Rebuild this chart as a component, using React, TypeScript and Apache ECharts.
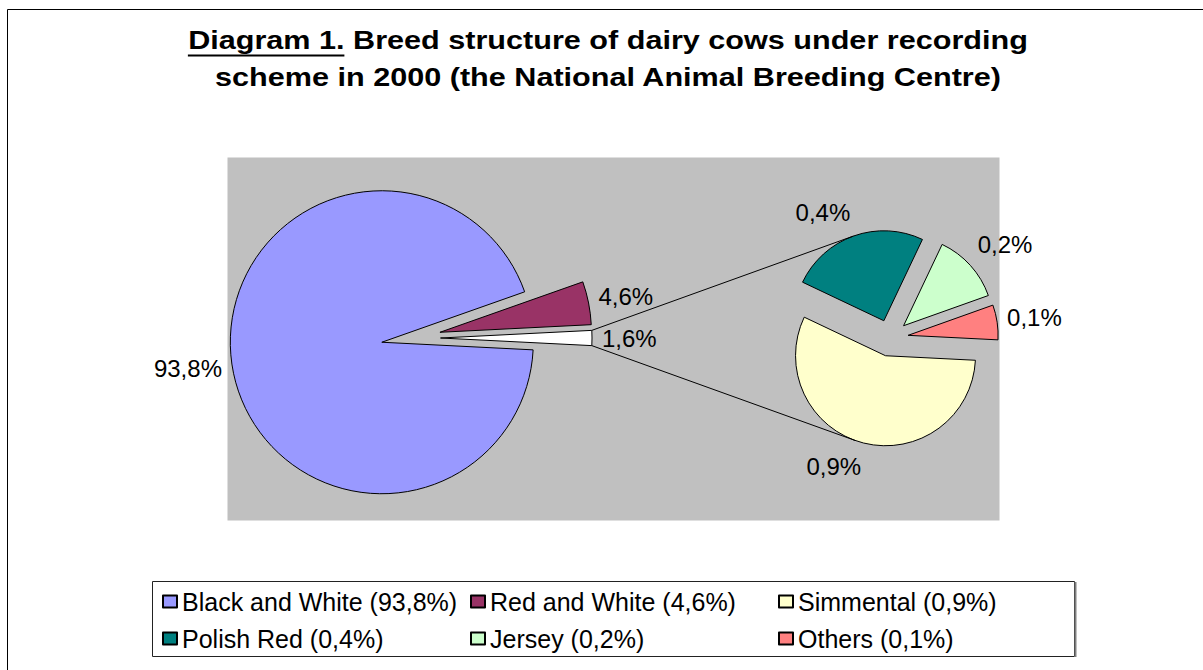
import React, { useEffect, useRef } from "react";
import * as echarts from "echarts";

// Primary pie: the two big breeds plus the aggregated "Other" slice
const mainNames = ["Black and White", "Red and White", "Other"];
const mainValues = [93.8, 4.6, 1.6];
const mainColors = ["#9999FF", "#993366", "#FFFFFF"];

// Secondary pie: breakdown of the "Other" slice
const subNames = ["Simmental", "Polish Red", "Jersey", "Others"];
const subValues = [0.9, 0.4, 0.2, 0.1];
const subColors = ["#FFFFCC", "#008080", "#CCFFCC", "#FF8080"];

const legendOrder = ["Black and White", "Red and White", "Simmental", "Polish Red", "Jersey", "Others"];

const titleLead = "Diagram 1.";
const titleLine1 = "Diagram 1. Breed structure of dairy cows under recording";
const titleLine2 = "scheme in 2000 (the National Animal Breeding Centre)";

const FONT = '"Liberation Sans", Arial, Helvetica, sans-serif';

const MAIN = { cx: 411, cy: 338, r: 151.5, explode: 29.5 };
const SUB = { cx: 890, cy: 338, r: 90, explode: 18.3 };
const LABEL_HALF_H = 14;

const TITLE_SIZE = 26.5;
const TITLE_SCALE_X = 1.155;
const TITLE_CX = 608;

const fmt = (v: number) => v.toFixed(1).replace(".", ",") + "%";
const rad = (d: number) => (d * Math.PI) / 180;
const sum = (a: number[]) => a.reduce((s, v) => s + v, 0);

type Ang = { a0: number; a1: number; mid: number };

// Clockwise slice angles (degrees, counter-clockwise from 3 o'clock, like ECharts)
function sliceAngles(values: number[], start: number): Ang[] {
  const total = sum(values);
  let a = start;
  return values.map((v) => {
    const a0 = a;
    const a1 = a - (v / total) * 360;
    a = a1;
    return { a0, a1, mid: (a0 + a1) / 2 };
  });
}

// The aggregated slice sits centred on the 3 o'clock direction
const START = 360 - ((mainValues[mainValues.length - 1] / sum(mainValues)) * 360) / 2;
const mainAngles = sliceAngles(mainValues, START);
const subAngles = sliceAngles(subValues, START);

function apex(c: typeof MAIN, ang: Ang): [number, number] {
  const m = rad(ang.mid);
  return [c.cx + c.explode * Math.cos(m), c.cy - c.explode * Math.sin(m)];
}
function polar(p: [number, number], r: number, deg: number): [number, number] {
  return [p[0] + r * Math.cos(rad(deg)), p[1] - r * Math.sin(rad(deg))];
}
function contains(ang: Ang, t: number) {
  for (let k = -2; k <= 2; k++) {
    const x = t + 360 * k;
    if (x <= ang.a0 && x >= ang.a1) return true;
  }
  return false;
}
function tangent(P: [number, number], C: [number, number], r: number, upper: boolean): [number, number] {
  const vx = P[0] - C[0];
  const vy = -(P[1] - C[1]);
  const d = Math.hypot(vx, vy);
  const phi = Math.atan2(vy, vx);
  const alpha = Math.acos(Math.min(1, r / d));
  const t1 = phi + alpha;
  const t2 = phi - alpha;
  const pick = upper ? (Math.sin(t1) > Math.sin(t2) ? t1 : t2) : Math.sin(t1) < Math.sin(t2) ? t1 : t2;
  return [C[0] + r * Math.cos(pick), C[1] - r * Math.sin(pick)];
}

const labelShift = (mid: number) => -Math.max(-1, Math.min(1, 1.5 * Math.sin(rad(mid)))) * LABEL_HALF_H;

function measure(text: string, font: string) {
  const ctx = document.createElement("canvas").getContext("2d")!;
  ctx.font = font;
  return ctx.measureText(text).width;
}

export default function App() {
  const ref = useRef<HTMLDivElement>(null);

  useEffect(() => {
    const el = ref.current!;
    const chart = echarts.init(el, null, { renderer: "svg" });

    const valueByName: Record<string, number> = {};
    mainNames.forEach((n, i) => (valueByName[n] = mainValues[i]));
    subNames.forEach((n, i) => (valueByName[n] = subValues[i]));

    // Connector lines from the "Other" slice to the secondary pie
    const otherIdx = mainValues.length - 1;
    const otherAng = mainAngles[otherIdx];
    const otherApex = apex(MAIN, otherAng);
    const cornerUp = polar(otherApex, MAIN.r, otherAng.a0);
    const cornerDown = polar(otherApex, MAIN.r, otherAng.a1);
    const topIdx = subAngles.findIndex((a) => contains(a, 90));
    const botIdx = subAngles.findIndex((a) => contains(a, 270));
    const endUp = tangent(cornerUp, apex(SUB, subAngles[topIdx]), SUB.r, true);
    const endDown = tangent(cornerDown, apex(SUB, subAngles[botIdx]), SUB.r, false);

    // Title metrics for the underline under "Diagram 1."
    const titleFont = `bold ${TITLE_SIZE}px ${FONT}`;
    const w1 = measure(titleLine1, titleFont) * TITLE_SCALE_X;
    const wLead = measure(titleLead, titleFont) * TITLE_SCALE_X;
    const titleX0 = TITLE_CX - w1 / 2;

    const pieCommon = {
      type: "pie" as const,
      clockwise: true,
      startAngle: START,
      selectedMode: "multiple" as const,
      avoidLabelOverlap: false,
      emphasis: { disabled: true },
      itemStyle: { borderColor: "#000", borderWidth: 1 },
      select: { itemStyle: { borderColor: "#000", borderWidth: 1 } },
      label: {
        show: true,
        position: "outside" as const,
        formatter: (p: any) => fmt(p.value),
        fontFamily: FONT,
        fontSize: 24,
        color: "#000",
        distanceToLabelLine: 0,
      },
      labelLine: { show: false, length: 10, length2: 0 },
    };

    const option: any = {
      animation: false,
      backgroundColor: "#fff",
      graphic: {
        elements: [
          {
            type: "rect",
            z: 0,
            shape: { x: 7.5, y: 9.5, width: 1400, height: 900 },
            style: { fill: "#fff", stroke: "#000", lineWidth: 1 },
          },
          {
            type: "rect",
            z: 1,
            shape: { x: 227.5, y: 157.5, width: 772, height: 363 },
            style: { fill: "#C0C0C0" },
          },
          {
            type: "rect",
            z: 1,
            shape: { x: 152.5, y: 581.5, width: 922, height: 75 },
            style: { fill: "#fff", stroke: "#222", lineWidth: 1 },
          },
          {
            type: "line",
            z: 1,
            shape: { x1: 1075.5, y1: 582, x2: 1075.5, y2: 657 },
            style: { stroke: "#808080", lineWidth: 2 },
          },
          {
            type: "group",
            x: TITLE_CX,
            y: 0,
            scaleX: TITLE_SCALE_X,
            z: 5,
            children: [
              {
                type: "text",
                x: 0,
                y: 40,
                style: {
                  text: titleLine1,
                  font: titleFont,
                  fill: "#000",
                  align: "center",
                  verticalAlign: "middle",
                  textAlign: "center",
                  textVerticalAlign: "middle",
                },
              },
              {
                type: "text",
                x: 0,
                y: 77,
                style: {
                  text: titleLine2,
                  font: titleFont,
                  fill: "#000",
                  align: "center",
                  verticalAlign: "middle",
                  textAlign: "center",
                  textVerticalAlign: "middle",
                },
              },
            ],
          },
          {
            type: "line",
            z: 5,
            shape: { x1: titleX0, y1: 55.5, x2: titleX0 + wLead, y2: 55.5 },
            style: { stroke: "#000", lineWidth: 2 },
          },
          {
            type: "line",
            z: 5,
            shape: { x1: cornerUp[0], y1: cornerUp[1], x2: endUp[0], y2: endUp[1] },
            style: { stroke: "#000", lineWidth: 1 },
          },
          {
            type: "line",
            z: 5,
            shape: { x1: cornerDown[0], y1: cornerDown[1], x2: endDown[0], y2: endDown[1] },
            style: { stroke: "#000", lineWidth: 1 },
          },
        ],
      },
      legend: {
        data: legendOrder,
        left: 162,
        top: 589,
        width: 912,
        padding: 0,
        itemWidth: 14,
        itemHeight: 12,
        itemGap: 12,
        icon: "rect",
        selectedMode: false,
        z: 6,
        formatter: (name: string) => `${name} (${fmt(valueByName[name])})`,
        textStyle: {
          fontFamily: FONT,
          fontSize: 25,
          color: "#000",
          width: 276,
          lineHeight: 25,
          overflow: "none",
        },
      },
      series: [
        {
          ...pieCommon,
          name: "Breeds",
          center: [MAIN.cx, MAIN.cy],
          radius: MAIN.r,
          selectedOffset: MAIN.explode,
          labelLayout: (p: any) => ({ dy: labelShift(mainAngles[p.dataIndex].mid) }),
          data: mainNames.map((n, i) => ({
            name: n,
            value: mainValues[i],
            selected: true,
            itemStyle: { color: mainColors[i] },
          })),
        },
        {
          ...pieCommon,
          name: "Other breeds",
          center: [SUB.cx, SUB.cy],
          radius: SUB.r,
          selectedOffset: SUB.explode,
          labelLayout: (p: any) => ({ dy: labelShift(subAngles[p.dataIndex].mid) }),
          data: subNames.map((n, i) => ({
            name: n,
            value: subValues[i],
            selected: true,
            itemStyle: { color: subColors[i] },
          })),
        },
      ],
    };

    chart.setOption(option);
    return () => chart.dispose();
  }, []);

  return (
    <div
      ref={ref}
      style={{ position: "fixed", left: 0, top: 0, width: 1203, height: 670 }}
    />
  );
}
